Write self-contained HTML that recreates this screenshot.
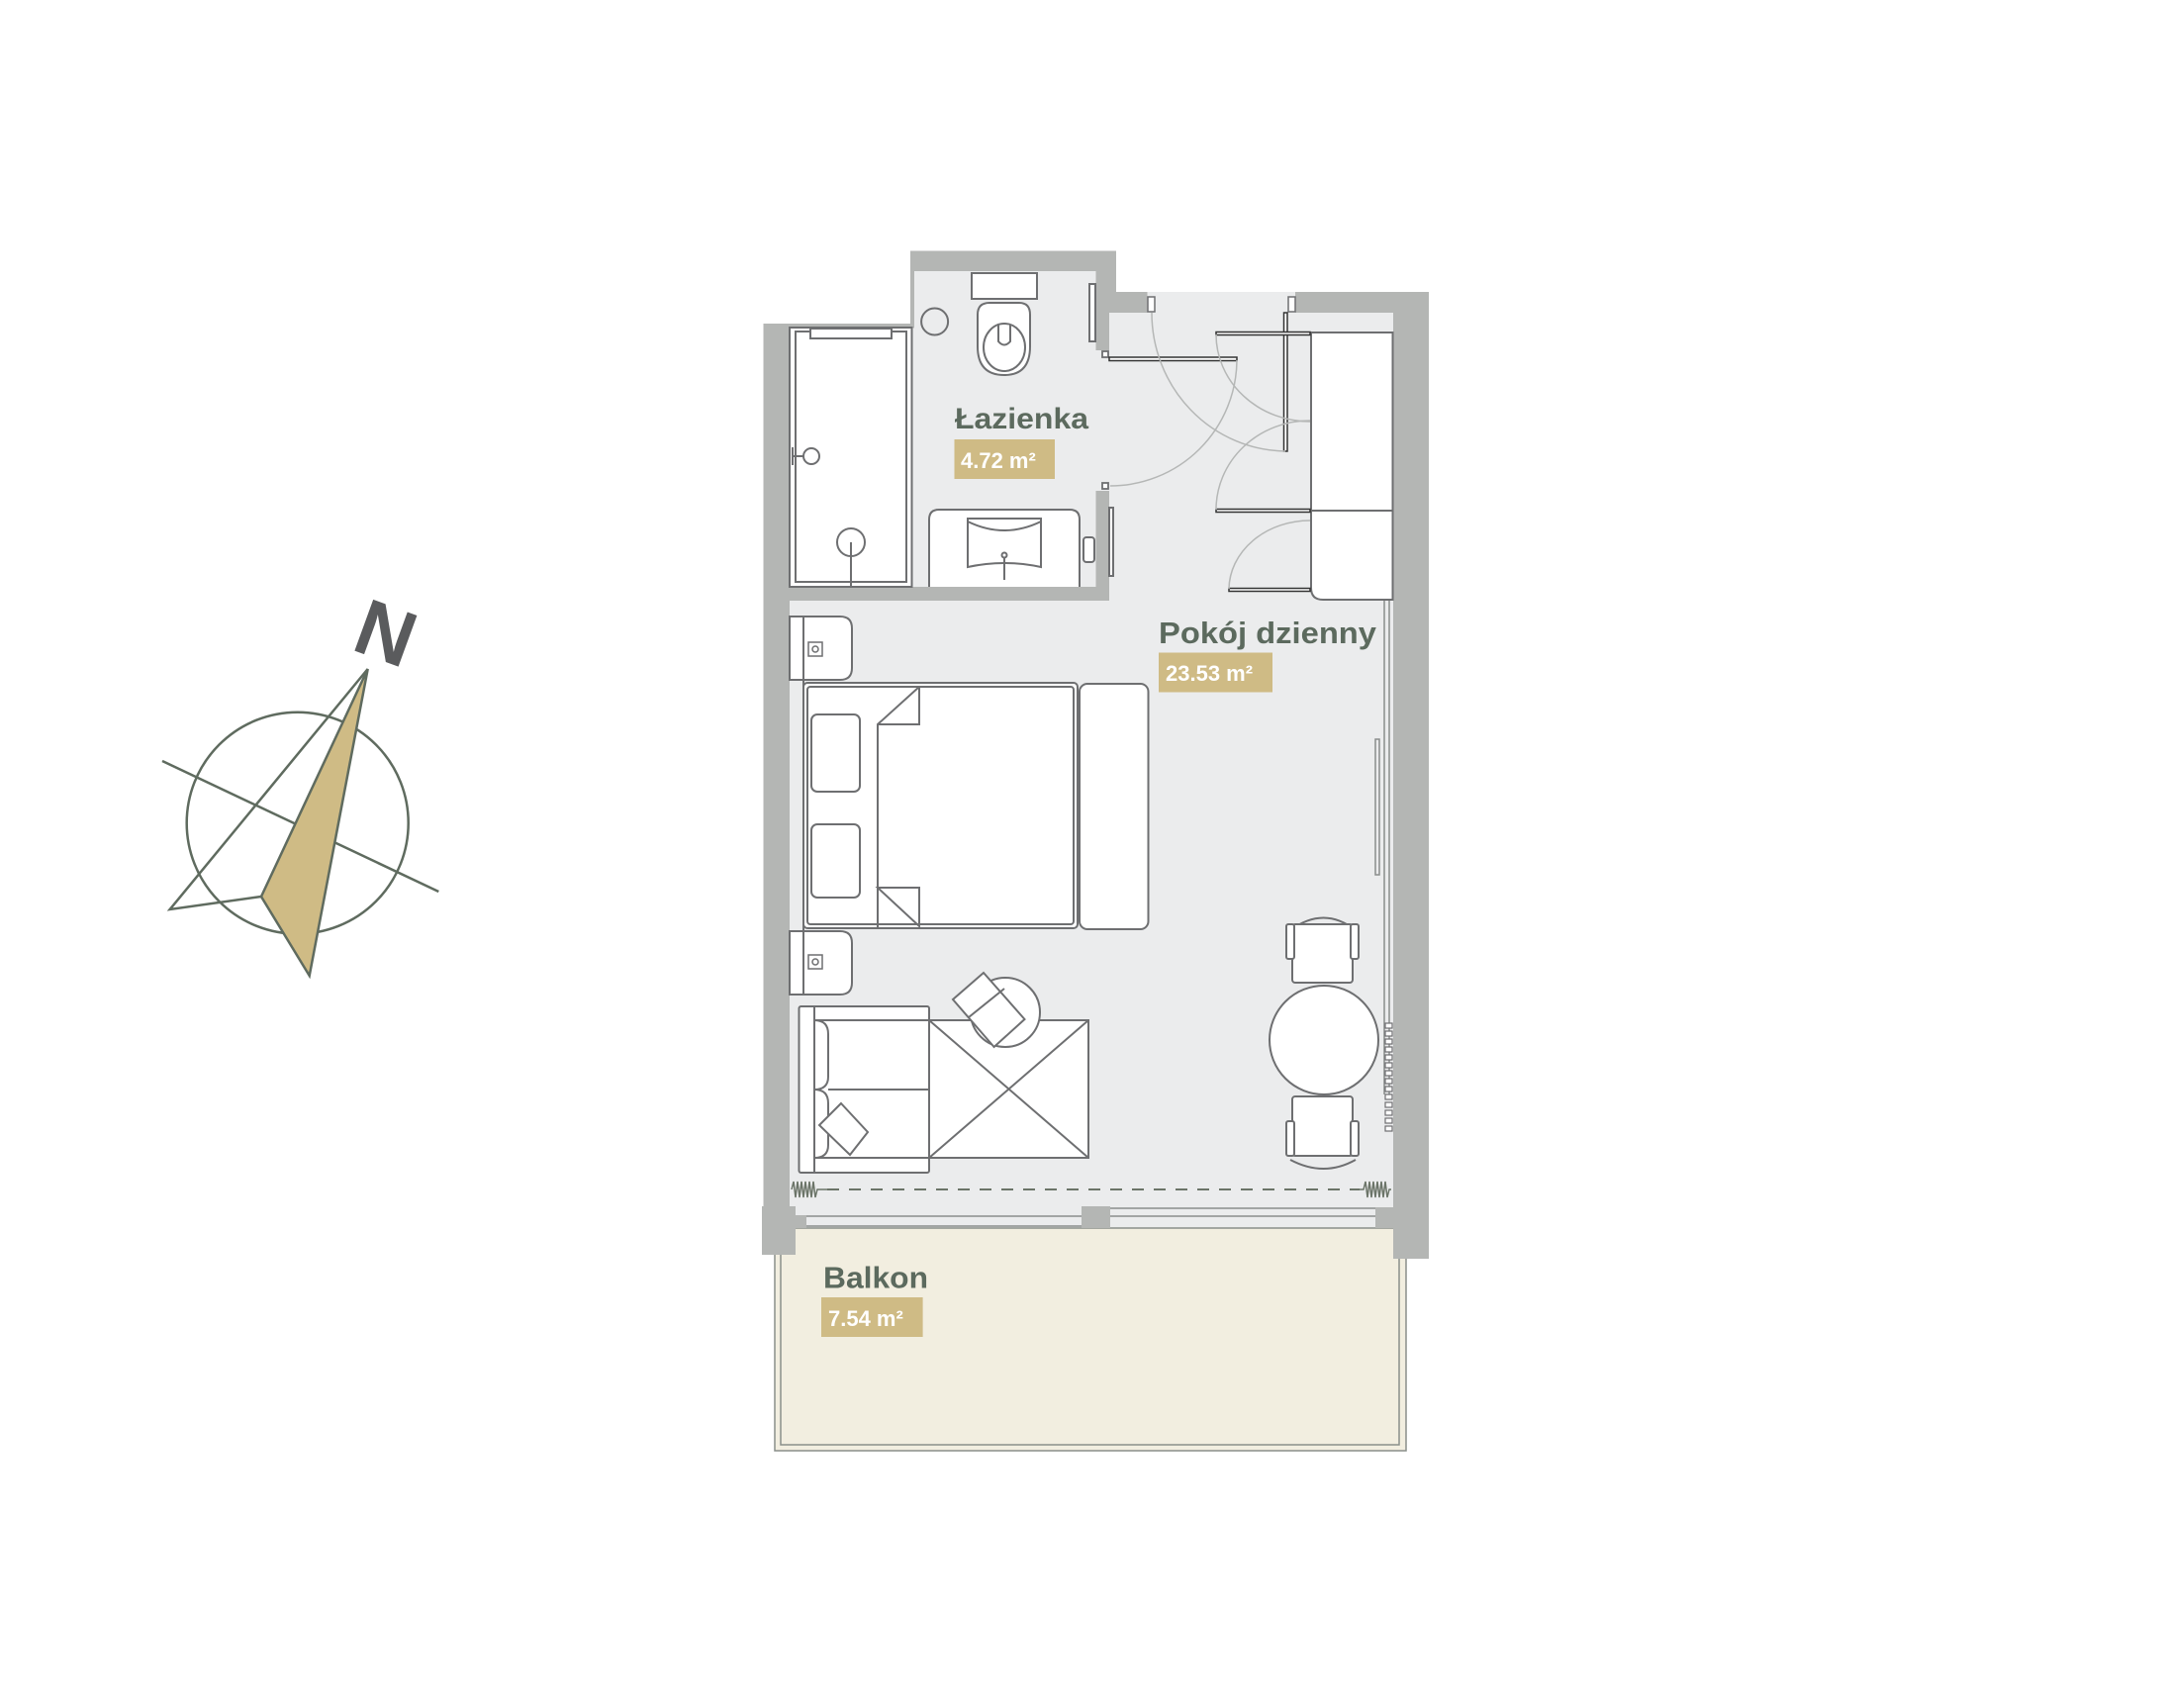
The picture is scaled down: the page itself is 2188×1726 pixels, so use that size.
<!DOCTYPE html>
<html><head><meta charset="utf-8"><style>
html,body{margin:0;padding:0;background:#fff}
svg{display:block}
text{font-family:"Liberation Sans",sans-serif}
</style></head><body>
<svg width="2188" height="1726" viewBox="0 0 2188 1726" xmlns="http://www.w3.org/2000/svg">
<rect width="2188" height="1726" fill="#fff"/>
<!-- floor -->
<g fill="#ebeced">
<rect x="798" y="331" width="610" height="910"/>
<rect x="924" y="274" width="184" height="60"/>
<rect x="1107" y="295" width="301" height="40"/>
</g>
<!-- balcony -->
<rect x="783" y="1241" width="638" height="225" fill="#f2eee0" stroke="#8a8f8a" stroke-width="1.5"/>
<path d="M789 1241 V1460 H1414 V1241" fill="none" stroke="#8a8f8a" stroke-width="1.5"/>
<!-- walls -->
<g fill="#b4b6b4">
<rect x="920" y="253.5" width="208" height="20.5"/>
<rect x="1107.5" y="253.5" width="20.5" height="42"/>
<rect x="1107.5" y="295" width="13.5" height="59"/>
<rect x="1107.5" y="295" width="52" height="21"/>
<rect x="1309" y="295" width="135" height="21"/>
<rect x="1408" y="295" width="36" height="977"/>
<rect x="920" y="253.5" width="4" height="78"/>
<rect x="771.5" y="327" width="152" height="4.5"/>
<rect x="771.5" y="327" width="26.5" height="892"/>
<rect x="798" y="593" width="323" height="14"/>
<rect x="1107.5" y="496" width="13.5" height="111"/>
<rect x="770" y="1219" width="34" height="49"/>
<rect x="804" y="1228" width="11" height="13"/>
<rect x="1093" y="1219" width="29" height="22"/>
<rect x="1390" y="1220" width="20" height="21"/>
</g>
<!-- window lines -->
<g stroke="#8a8d8c" stroke-width="1.5" fill="none">
<line x1="815" y1="1229" x2="1093" y2="1229"/>
<line x1="815" y1="1239" x2="1093" y2="1239"/>
<line x1="1122" y1="1221" x2="1390" y2="1221"/>
<line x1="1122" y1="1229" x2="1390" y2="1229"/>
<line x1="1399" y1="606" x2="1399" y2="1106"/>
<line x1="1404" y1="606" x2="1404" y2="1106"/>
<rect x="1390" y="747" width="4" height="137"/>
</g>
<!-- radiator -->
<g stroke="#6e6f71" stroke-width="1.2" fill="#fff">
<rect x="1400" y="1034" width="7" height="5"/><rect x="1400" y="1042" width="7" height="5"/><rect x="1400" y="1050" width="7" height="5"/><rect x="1400" y="1058" width="7" height="5"/><rect x="1400" y="1066" width="7" height="5"/><rect x="1400" y="1074" width="7" height="5"/><rect x="1400" y="1082" width="7" height="5"/><rect x="1400" y="1090" width="7" height="5"/><rect x="1400" y="1098" width="7" height="5"/><rect x="1400" y="1106" width="7" height="5"/><rect x="1400" y="1114" width="7" height="5"/><rect x="1400" y="1122" width="7" height="5"/><rect x="1400" y="1130" width="7" height="5"/><rect x="1400" y="1138" width="7" height="5"/>
</g>
<!-- dashed line + springs -->
<line x1="836" y1="1202" x2="1374" y2="1202" stroke="#6b7468" stroke-width="2" stroke-dasharray="12 10"/>
<path d="M800 1202 l2 -8 l2 16 l2 -16 l2 16 l2 -16 l2 16 l2 -16 l2 16 l2 -16 l2 16 l2 -16 l2 16 l2 -8 H836" fill="none" stroke="#6b7468" stroke-width="1.5"/>
<path d="M1374 1202 h4 l2 -8 l2 16 l2 -16 l2 16 l2 -16 l2 16 l2 -16 l2 16 l2 -16 l2 16 l2 -16 l2 16 l2 -8 h2" fill="none" stroke="#6b7468" stroke-width="1.5"/>

<g stroke="#6e6f71" stroke-width="2" fill="#fff">
<!-- shower -->
<rect x="798" y="331" width="123.5" height="262"/>
<rect x="804" y="335" width="112" height="253"/>
<rect x="819" y="332" width="82" height="10"/>
<circle cx="820" cy="461" r="8"/>
<line x1="801" y1="461" x2="812" y2="461"/>
<line x1="801" y1="452" x2="801" y2="470"/>
<circle cx="860" cy="548" r="14"/>
<line x1="860" y1="548" x2="860" y2="593"/>
<!-- toilet -->
<circle cx="944.6" cy="325" r="13.5" fill="none"/>
<rect x="982" y="276" width="66" height="26"/>
<path d="M988 318 Q988 306 1000 306 H1030 Q1041 306 1041 318 V350 Q1041 379 1015 379 Q988 379 988 350 Z"/>
<ellipse cx="1015" cy="351" rx="21" ry="24"/>
<path d="M1009 328 V345 Q1015 352 1021 345 V328" fill="none"/>
<rect x="1101" y="287" width="6" height="58"/>
<!-- sink -->
<path d="M939 593 V525 Q939 515 949 515 H1081 Q1091 515 1091 525 V593"/>
<path d="M978 524 H1052 V573 Q1015 565 978 573 Z"/>
<path d="M978 527 Q1015 545 1052 527" fill="none"/>
<line x1="1015" y1="562" x2="1015" y2="586"/>
<circle cx="1015" cy="561" r="2.5"/>
<rect x="1095" y="543" width="11" height="25" rx="3"/>
<rect x="1121" y="513" width="4" height="69"/>
<!-- bathroom door -->
<rect x="1114" y="355" width="6" height="6" stroke-width="1.8"/>
<rect x="1114" y="488" width="6" height="6" stroke-width="1.8"/>
<rect x="1121" y="361" width="129" height="3.5" fill="#fff" stroke="#333" stroke-width="1.5"/>
<path d="M1250 364 A128 128 0 0 1 1122 491" fill="none" stroke="#b5b7b6" stroke-width="1.5"/>
<!-- entrance door -->
<rect x="1160" y="300" width="7" height="15" stroke-width="1.5"/>
<rect x="1302" y="300" width="7" height="15" stroke-width="1.5"/>
<rect x="1297.5" y="316" width="3.5" height="140" fill="#fff" stroke="#333" stroke-width="1.5"/>
<path d="M1164 316 A137 140 0 0 0 1299 456" fill="none" stroke="#b5b7b6" stroke-width="1.5"/>
<!-- wardrobe -->
<path d="M1325 336 H1407.5 V606 H1337 Q1325 606 1325 594 Z"/>
<line x1="1325" y1="516" x2="1407.5" y2="516"/>
<rect x="1229" y="335.5" width="95" height="3" fill="#fff" stroke="#333" stroke-width="1.5"/>
<rect x="1229" y="514.5" width="95" height="3" fill="#fff" stroke="#333" stroke-width="1.5"/>
<rect x="1242" y="594.5" width="82" height="3" fill="#fff" stroke="#333" stroke-width="1.5"/>
<path d="M1229 338 A95 88 0 0 0 1324 426" fill="none" stroke="#b5b7b6" stroke-width="1.5"/>
<path d="M1229 515 A95 90 0 0 1 1324 425" fill="none" stroke="#b5b7b6" stroke-width="1.5"/>
<path d="M1242 595 A82 70 0 0 1 1324 526" fill="none" stroke="#b5b7b6" stroke-width="1.5"/>
<!-- nightstands -->
<path d="M798 623 H849 Q861 623 861 635 V675 Q861 687 849 687 H798 Z"/>
<path d="M798 941 H849 Q861 941 861 953 V993 Q861 1005 849 1005 H798 Z"/>
<line x1="812" y1="623" x2="812" y2="1005"/>
<rect x="817" y="649" width="14" height="14" stroke-width="1.5"/>
<circle cx="824" cy="656" r="3" stroke-width="1.5"/>
<rect x="817" y="965" width="14" height="14" stroke-width="1.5"/>
<circle cx="824" cy="972" r="3" stroke-width="1.5"/>
<!-- bed -->
<rect x="812" y="690" width="277" height="248" rx="4"/>
<rect x="816" y="694" width="269" height="240" rx="3"/>
<path d="M887 938 V732 L929 694"/>
<path d="M887 732 H929 V694" fill="none"/>
<path d="M887 897 H929 V936 Z" fill="none"/>
<rect x="820" y="722" width="49" height="78" rx="6"/>
<rect x="820" y="833" width="49" height="74" rx="6"/>
<rect x="1091" y="691" width="69.5" height="248" rx="8"/>
<!-- sofa -->
<rect x="807.5" y="1017" width="131.5" height="168" rx="2"/>
<line x1="823" y1="1017" x2="823" y2="1185"/>
<line x1="823" y1="1031" x2="939" y2="1031"/>
<line x1="823" y1="1170" x2="939" y2="1170"/>
<path d="M823 1031 Q837 1031 837 1045 V1088 Q837 1101 823 1101 Q837 1101 837 1115 V1157 Q837 1170 823 1170" fill="none"/>
<line x1="837" y1="1101" x2="939" y2="1101"/>
<path d="M850 1115 L877 1144 L859 1167 L828 1137 Z"/>
<!-- ottoman -->
<rect x="939" y="1031" width="161" height="139"/>
<path d="M939 1031 L1100 1170 M1100 1031 L939 1170" fill="none"/>
<!-- armchair + round table -->
<circle cx="1016" cy="1023" r="35"/>
<path d="M994 983 L1035.5 1030 L1004.6 1058 L963 1010 Z"/>
<line x1="979" y1="1028" x2="1015" y2="999"/>
<!-- dining -->
<circle cx="1338" cy="1051" r="55"/>
<path d="M1304 940 Q1338 915 1370 940" fill="none"/>
<rect x="1306" y="934" width="61" height="59" rx="3"/>
<rect x="1300" y="934" width="8" height="35" rx="2"/>
<rect x="1365" y="934" width="8" height="35" rx="2"/>
<path d="M1304 1172 Q1338 1190 1370 1172" fill="none"/>
<rect x="1306" y="1108" width="61" height="60" rx="3"/>
<rect x="1300" y="1133" width="8" height="35" rx="2"/>
<rect x="1365" y="1133" width="8" height="35" rx="2"/>
</g>

<!-- labels -->
<g font-weight="bold">
<text x="965" y="433" font-size="30" fill="#5c6a5e" textLength="135" lengthAdjust="spacingAndGlyphs">Łazienka</text>
<rect x="964.5" y="444" width="101.5" height="40" fill="#cfbb85"/>
<text x="971" y="473" font-size="22" fill="#fff">4.72 m²</text>
<text x="1171" y="650" font-size="31" fill="#5c6a5e" textLength="220" lengthAdjust="spacingAndGlyphs">Pokój dzienny</text>
<rect x="1171" y="659.5" width="115" height="40" fill="#cfbb85"/>
<text x="1178" y="688" font-size="22" fill="#fff">23.53 m²</text>
<text x="832" y="1301.6" font-size="31" fill="#5c6a5e" textLength="106" lengthAdjust="spacingAndGlyphs">Balkon</text>
<rect x="830" y="1311" width="102.6" height="40" fill="#cfbb85"/>
<text x="837" y="1340" font-size="22" fill="#fff">7.54 m²</text>
</g>

<!-- compass -->
<g stroke="#5f6b5f" stroke-width="2.5" fill="none">
<circle cx="300.7" cy="831.7" r="112"/>
<line x1="164" y1="769" x2="443.3" y2="901"/>
<path d="M371.7 676 L171.7 919 L264 906"/>
<path d="M371.7 676 L264 906 L312.7 986 Z" fill="#cfbb85"/>
</g>
<text x="388" y="667" font-size="80" font-weight="bold" fill="#5a5b5d" text-anchor="middle" transform="rotate(20 388 645)">N</text>
</svg>
</body></html>
